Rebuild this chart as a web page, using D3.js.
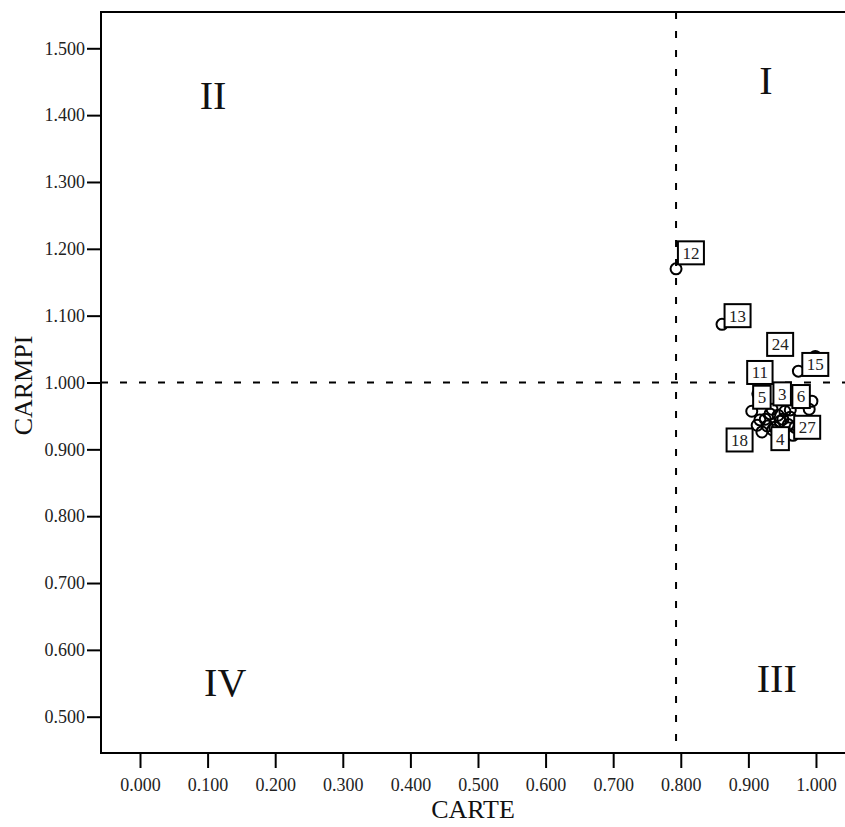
<!DOCTYPE html>
<html>
<head>
  <meta charset="utf-8">
  <title>CARTE / CARMPI</title>
  <script src="https://d3js.org/d3.v7.min.js"></script>
  <style>
    body { margin: 0; background: #fff; }
    text { font-family: "Liberation Serif", "Times New Roman", serif; }
  </style>
</head>
<body>
  <div id="chart"></div>
  <script>
    // point ids and their two ratios
    const ids = [1, 2, 3, 4, 5, 6, 7, 8, 9, 10, 11, 12, 13, 14, 15, 16, 17, 18, 19, 20, 21, 22, 23, 24, 25, 26, 27, 28];
    const carte = [0.944, 0.951, 0.935, 0.936, 0.905, 0.962, 0.917, 0.925, 0.920, 0.954, 0.914, 0.793, 0.861, 0.994,
                   0.974, 0.990, 0.947, 0.913, 0.962, 0.969, 0.966, 0.959, 0.932, 0.947, 0.999, 0.939, 0.976, 0.928];
    const carmpi = [0.951, 0.945, 0.960, 0.929, 0.957, 0.959, 0.944, 0.945, 0.926, 0.957, 0.983, 1.170, 1.087, 0.972,
                    1.017, 0.960, 0.942, 0.936, 0.948, 0.933, 0.921, 0.937, 0.953, 0.981, 1.039, 0.933, 0.983, 0.935];

    // which points carry a label box, and where the box sits (data units, box centre)
    const labelIds = [12, 13, 24, 11, 5, 3, 6, 15, 27, 18, 4];
    const labelCarte = [0.815, 0.884, 0.947, 0.917, 0.920, 0.950, 0.978, 0.999, 0.987, 0.887, 0.947];
    const labelCarmpi = [1.194, 1.100, 1.057, 1.015, 0.978, 0.983, 0.979, 1.027, 0.933, 0.914, 0.916];

    // quadrant names
    const quadNames = ["II", "I", "IV", "III"];
    const quadCarte = [0.108, 0.926, 0.126, 0.942];
    const quadCarmpi = [1.429, 1.452, 0.551, 0.558];

    // reference lines
    const refCarte = 0.793;
    const refCarmpi = 1.000;

    const xTicks = d3.range(0, 11).map(i => i / 10);
    const yTicks = d3.range(5, 16).map(i => i / 10);

    const W = 845, H = 827;
    const plotL = 101, plotT = 12, plotR = 847, plotB = 753;

    const x = d3.scaleLinear().domain([-0.0577, 1.0459]).range([plotL, plotR]);
    const y = d3.scaleLinear().domain([0.4457, 1.5543]).range([plotB, plotT]);
    const fmt = d3.format(".3f");

    const svg = d3.select("#chart").append("svg")
      .attr("width", W).attr("height", H);

    // axes
    const xAxis = d3.axisBottom(x).tickValues(xTicks).tickFormat(fmt)
      .tickSizeOuter(0).tickSize(15).tickPadding(10);
    const yAxis = d3.axisLeft(y).tickValues(yTicks).tickFormat(fmt)
      .tickSizeOuter(0).tickSize(14).tickPadding(2);

    const gx = svg.append("g").attr("transform", `translate(0,${plotB})`).call(xAxis);
    const gy = svg.append("g").attr("transform", `translate(${plotL},0)`).call(yAxis);
    [gx, gy].forEach(g => {
      g.select(".domain").remove();
      g.selectAll(".tick line").attr("stroke", "#000").attr("stroke-width", 2);
      g.selectAll(".tick text").attr("fill", "#222").style("font-size", "18px")
        .style("font-family", "'Liberation Serif', serif");
    });

    // frame
    svg.append("rect")
      .attr("x", plotL).attr("y", plotT)
      .attr("width", plotR - plotL).attr("height", plotB - plotT)
      .attr("fill", "none").attr("stroke", "#000").attr("stroke-width", 2);

    // reference lines
    svg.append("line")
      .attr("x1", x(refCarte)).attr("x2", x(refCarte))
      .attr("y1", plotT).attr("y2", plotB)
      .attr("stroke", "#000").attr("stroke-width", 2).attr("stroke-dasharray", "7,12");
    svg.append("line")
      .attr("x1", plotL).attr("x2", plotR)
      .attr("y1", y(refCarmpi)).attr("y2", y(refCarmpi))
      .attr("stroke", "#000").attr("stroke-width", 2).attr("stroke-dasharray", "7,12");

    // axis titles
    svg.append("text")
      .attr("x", (plotL + W) / 2).attr("y", 818)
      .attr("text-anchor", "middle").style("font-size", "26px").attr("fill", "#111")
      .text("CARTE");
    svg.append("text")
      .attr("transform", `translate(32,${(plotT + plotB) / 2 + 3}) rotate(-90)`)
      .attr("text-anchor", "middle").style("font-size", "26px").attr("fill", "#111")
      .text("CARMPI");

    // quadrant names
    svg.selectAll(".quad")
      .data(quadNames)
      .enter().append("text")
      .attr("class", "quad")
      .attr("x", (d, i) => x(quadCarte[i]))
      .attr("y", (d, i) => y(quadCarmpi[i]))
      .attr("dy", "0.34em")
      .attr("text-anchor", "middle")
      .style("font-size", "40px").attr("fill", "#111")
      .text(d => d);

    // points
    const points = ids.map((id, i) => ({ id: id, carte: carte[i], carmpi: carmpi[i] }));
    svg.selectAll(".pt")
      .data(points)
      .enter().append("circle")
      .attr("class", "pt")
      .attr("cx", d => x(d.carte))
      .attr("cy", d => y(d.carmpi))
      .attr("r", 5.5)
      .attr("fill", "none")
      .attr("stroke", "#000")
      .attr("stroke-width", 2);

    // label boxes
    const labels = labelIds.map((id, i) => ({ id: id, carte: labelCarte[i], carmpi: labelCarmpi[i] }));
    const lg = svg.selectAll(".lab")
      .data(labels)
      .enter().append("g")
      .attr("class", "lab")
      .attr("transform", d => `translate(${x(d.carte)},${y(d.carmpi)})`);
    lg.append("rect").attr("class", "box");
    lg.append("text")
      .attr("text-anchor", "middle")
      .attr("dy", "0.35em")
      .style("font-size", "17px").attr("fill", "#222")
      .text(d => d.id);
    lg.each(function () {
      const g = d3.select(this);
      const w = g.select("text").node().getComputedTextLength() + 9;
      const h = 23;
      g.select("rect")
        .attr("x", -w / 2).attr("y", -h / 2)
        .attr("width", w).attr("height", h)
        .attr("fill", "#fff").attr("stroke", "#000").attr("stroke-width", 2);
    });
  </script>
</body>
</html>
